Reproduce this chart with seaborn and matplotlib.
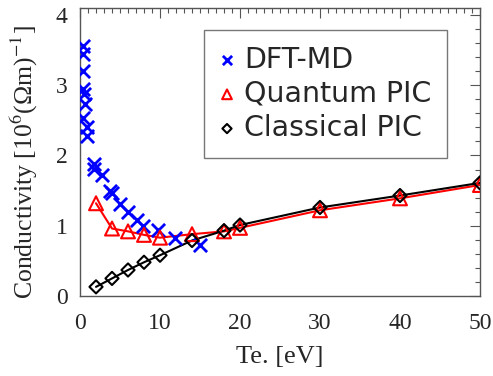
import matplotlib
matplotlib.use("Agg")
import matplotlib.pyplot as plt
from matplotlib.ticker import MultipleLocator
import seaborn as sns

sns.set_style("white")
plt.rcParams['mathtext.fontset'] = 'stix'

# DFT-MD data (blue crosses)
dft_te = [0.33, 0.42, 0.42, 0.33, 0.5, 0.63, 0.42, 0.83, 0.92,
          1.7, 1.7, 2.7, 3.75, 4.0, 5.0, 6.0, 7.1, 7.9, 9.8, 11.9, 15.0]
dft_sigma = [3.56, 3.45, 3.20, 2.95, 2.88, 2.74, 2.54, 2.40, 2.28,
             1.88, 1.81, 1.72, 1.50, 1.46, 1.31, 1.20, 1.08, 1.00, 0.94, 0.82, 0.72]

# Quantum PIC (red triangles)
qpic_te = [2, 4, 6, 8, 10, 14, 18, 20, 30, 40, 50]
qpic_sigma = [1.32, 0.96, 0.92, 0.87, 0.83, 0.88, 0.92, 0.97, 1.22, 1.39, 1.58]

# Classical PIC (black diamonds)
cpic_te = [2, 4, 6, 8, 10, 14, 18, 20, 30, 40, 50]
cpic_sigma = [0.13, 0.25, 0.37, 0.48, 0.58, 0.79, 0.93, 1.01, 1.26, 1.43, 1.61]

fig = plt.figure(figsize=(4.93, 3.76), dpi=100)
ax = fig.add_axes([0.1623, 0.2128, 0.8113, 0.766])

# lines
sns.lineplot(x=qpic_te, y=qpic_sigma, color='red', lw=1.5, sort=False,
             estimator=None, ax=ax, legend=False)
sns.lineplot(x=cpic_te, y=cpic_sigma, color='black', lw=1.5, sort=False,
             estimator=None, ax=ax, legend=False)

# markers
sns.scatterplot(x=dft_te, y=dft_sigma, marker='x', color='blue', s=90,
                linewidth=2, ax=ax, label='DFT-MD', zorder=3)
sns.scatterplot(x=qpic_te, y=qpic_sigma, marker='^', facecolor='none',
                edgecolor='red', s=100, linewidth=1.5, ax=ax,
                label='Quantum PIC', zorder=3)
sns.scatterplot(x=cpic_te, y=cpic_sigma, marker='D', facecolor='none',
                edgecolor='black', s=45, linewidth=1.5, ax=ax,
                label='Classical PIC', zorder=4)

ax.set_xlim(0, 50)
ax.set_ylim(0, 4.1)
ax.xaxis.set_major_locator(MultipleLocator(10))
ax.xaxis.set_minor_locator(MultipleLocator(1))
ax.yaxis.set_major_locator(MultipleLocator(1))
ax.yaxis.set_minor_locator(MultipleLocator(0.2))
ax.tick_params(which='both', direction='in', top=True, right=True,
               color='#555555', width=0.8)
ax.tick_params(which='major', length=7, labelsize=17)
ax.tick_params(axis='x', which='major', pad=12)
ax.tick_params(axis='y', which='major', pad=9)
ax.tick_params(which='minor', length=3.5)
for lab in ax.get_xticklabels() + ax.get_yticklabels():
    lab.set_family('Liberation Serif')
for sp in ax.spines.values():
    sp.set_color('#555555')
    sp.set_linewidth(1.0)

ax.set_xlabel('Te. [eV]', family='Liberation Serif', fontsize=19, labelpad=9)
ax.set_ylabel('Conductivity [10$^6$(Ωm)$^{-1}$]', family='Liberation Serif',
              fontsize=18.5)
ax.yaxis.set_label_coords(-0.1, 0.465)

leg = ax.legend(loc='upper right', bbox_to_anchor=(0.9175, 0.924),
                fontsize=20.5, frameon=True, fancybox=False, markerscale=0.7,
                handletextpad=0.35, labelspacing=0.22, borderpad=0.55,
                handlelength=0.5, borderaxespad=0)
leg.get_frame().set_edgecolor('#555555')
leg.get_frame().set_linewidth(1.0)

fig.savefig('out.png', dpi=100)
